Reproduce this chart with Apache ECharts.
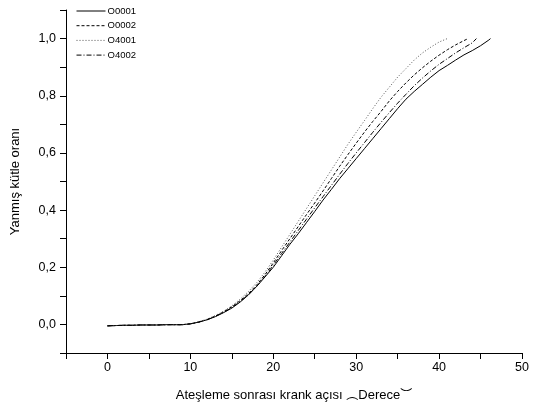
<!DOCTYPE html>
<html>
<head>
<meta charset="utf-8">
<script src="https://cdn.jsdelivr.net/npm/echarts@6/dist/echarts.min.js"></script>
<style>html,body{margin:0;padding:0;background:#fff;}#c{width:534px;height:410px;}</style>
</head>
<body>
<div id="c"></div>
<script>
var seriesNames = ['O0001', 'O0002', 'O4001', 'O4002'];

var o0001X = [0,1,2,3,4,5,6,7,8,9,10,11,12,13,14,15,16,17,18,19,20,21,22,23,24,25,26,27,28,29,30,31,32,33,34,35,36,37,38,39,40,41,42,43,44,45,46,46.2];
var o0001Y = [-0.005,-0.004,-0.003,-0.003,-0.002,-0.002,-0.002,-0.001,-0.001,-0.001,0.002,0.008,0.016,0.027,0.041,0.057,0.078,0.103,0.133,0.166,0.2,0.24,0.28,0.317,0.356,0.395,0.435,0.472,0.51,0.545,0.58,0.615,0.65,0.685,0.72,0.755,0.788,0.815,0.84,0.865,0.888,0.906,0.925,0.943,0.958,0.975,0.995,1.0];

var o0002X = [0,1,2,3,4,5,6,7,8,9,10,11,12,13,14,15,16,17,18,19,20,21,22,23,24,25,26,27,28,29,30,31,32,33,34,35,36,37,38,39,40,41,42,43,43.5];
var o0002Y = [-0.005,-0.004,-0.003,-0.003,-0.002,-0.002,-0.002,-0.001,-0.001,-0.001,0.002,0.008,0.017,0.029,0.044,0.062,0.083,0.108,0.138,0.174,0.215,0.258,0.3,0.342,0.384,0.425,0.467,0.51,0.553,0.594,0.634,0.673,0.71,0.745,0.782,0.815,0.845,0.873,0.898,0.921,0.942,0.961,0.978,0.993,1.0];

var o4001X = [0,1,2,3,4,5,6,7,8,9,10,11,12,13,14,15,16,17,18,19,20,21,22,23,24,25,26,27,28,29,30,31,32,33,34,35,36,37,38,39,40,41];
var o4001Y = [-0.005,-0.004,-0.003,-0.003,-0.002,-0.002,-0.002,-0.001,-0.001,-0.001,0.002,0.009,0.018,0.031,0.046,0.065,0.088,0.115,0.146,0.183,0.225,0.27,0.315,0.36,0.405,0.45,0.495,0.54,0.585,0.63,0.672,0.713,0.755,0.795,0.83,0.865,0.895,0.925,0.95,0.97,0.988,1.0];

var o4002X = [0,1,2,3,4,5,6,7,8,9,10,11,12,13,14,15,16,17,18,19,20,21,22,23,24,25,26,27,28,29,30,31,32,33,34,35,36,37,38,39,40,41,42,43,44,44.5];
var o4002Y = [-0.005,-0.004,-0.003,-0.003,-0.002,-0.002,-0.002,-0.001,-0.001,-0.001,0.002,0.008,0.016,0.028,0.042,0.059,0.08,0.104,0.133,0.168,0.207,0.248,0.288,0.328,0.368,0.408,0.447,0.486,0.525,0.563,0.6,0.636,0.672,0.707,0.741,0.774,0.805,0.835,0.862,0.887,0.91,0.93,0.95,0.968,0.985,1.0];

var yTickLabels = ['0,0', '0,2', '0,4', '0,6', '0,8', '1,0'];
var xTickLabels = ['0', '10', '20', '30', '40', '50'];

function pairs(xs, ys) { return xs.map(function (x, i) { return [x, ys[i]]; }); }

var FONT = 'Liberation Sans, Arial, sans-serif';
var chart = echarts.init(document.getElementById('c'), null, { renderer: 'canvas' });

function isMajorY(v) { var r = Math.round(Number(v) * 10); return r >= 0 && r <= 10 && r % 2 === 0; }
function isMajorX(v) { var r = Math.round(Number(v)); return r >= 0 && r % 10 === 0; }
function yLabel(v) { return isMajorY(v) ? yTickLabels[Math.round(Number(v) * 10) / 2] : ''; }
function xLabel(v) { return isMajorX(v) ? xTickLabels[Math.round(Number(v)) / 10] : ''; }

chart.setOption({
  animation: false,
  backgroundColor: '#fff',
  grid: { left: 66, right: 12, top: 10, bottom: 57 },
  legend: {
    orient: 'vertical',
    left: 76,
    top: 6,
    padding: 0,
    itemWidth: 29,
    itemHeight: 10,
    itemGap: 4.7,
    data: seriesNames,
    itemStyle: { opacity: 0 },
    lineStyle: { width: 1 },
    textStyle: { fontFamily: FONT, fontSize: 9.5, color: '#000', padding: [0, 0, 0, -3] }
  },
  xAxis: [{
    type: 'value', min: -5, max: 50, interval: 5,
    splitLine: { show: false },
    axisLine: { onZero: false, lineStyle: { color: '#000', width: 1 } },
    axisTick: { show: true, length: 3, lineStyle: { color: '#000' } },
    axisLabel: { formatter: xLabel, margin: 8, fontFamily: FONT, fontSize: 12.5, color: '#000' },
    name: 'Ateşleme sonrası krank açısı {a|︵}Derece{b|︶}',
    nameLocation: 'middle', nameGap: 35,
    nameTextStyle: { fontFamily: FONT, fontSize: 13, color: '#000',
      rich: { a: { fontFamily: 'Noto Sans CJK SC', fontSize: 12, color: '#000', padding: [0, 0, 1, 0] },
              b: { fontFamily: 'Noto Sans CJK SC', fontSize: 12, color: '#000', padding: [0, 0, 2, 0] } } }
  }, {
    type: 'value', min: -5, max: 50, interval: 5, position: 'bottom',
    splitLine: { show: false },
    axisLine: { show: false, onZero: false },
    axisTick: { show: true, length: 6, interval: function (i, v) { return isMajorX(v); }, lineStyle: { color: '#000' } },
    axisLabel: { show: false }
  }],
  yAxis: [{
    type: 'value', min: -0.1, max: 1.1, interval: 0.1,
    splitLine: { show: false },
    axisLine: { show: true, onZero: false, lineStyle: { color: '#000', width: 1 } },
    axisTick: { show: true, length: 3, lineStyle: { color: '#000' } },
    axisLabel: { formatter: yLabel, margin: 10, fontFamily: FONT, fontSize: 12.5, color: '#000' },
    name: 'Yanmış kütle oranı', nameLocation: 'middle', nameGap: 44, nameRotate: 90,
    nameTextStyle: { fontFamily: FONT, fontSize: 13, color: '#000' }
  }, {
    type: 'value', min: -0.1, max: 1.1, interval: 0.1, position: 'left',
    splitLine: { show: false },
    axisLine: { show: false, onZero: false },
    axisTick: { show: true, length: 6, interval: function (i, v) { return isMajorY(v); }, lineStyle: { color: '#000' } },
    axisLabel: { show: false }
  }],
  series: [
    { name: 'O0001', type: 'line', symbol: 'none', data: pairs(o0001X, o0001Y),
      lineStyle: { color: '#000', width: 1, type: 'solid' }, itemStyle: { color: '#000' } },
    { name: 'O0002', type: 'line', symbol: 'none', data: pairs(o0002X, o0002Y),
      lineStyle: { color: '#000', width: 1, type: [3, 2] }, itemStyle: { color: '#000' } },
    { name: 'O4001', type: 'line', symbol: 'none', data: pairs(o4001X, o4001Y),
      lineStyle: { color: '#555', width: 1, type: [1, 2] }, itemStyle: { color: '#555' } },
    { name: 'O4002', type: 'line', symbol: 'none', data: pairs(o4002X, o4002Y),
      lineStyle: { color: '#000', width: 1, type: [5, 2, 1, 2] }, itemStyle: { color: '#000' } }
  ]
});
</script>
</body>
</html>
